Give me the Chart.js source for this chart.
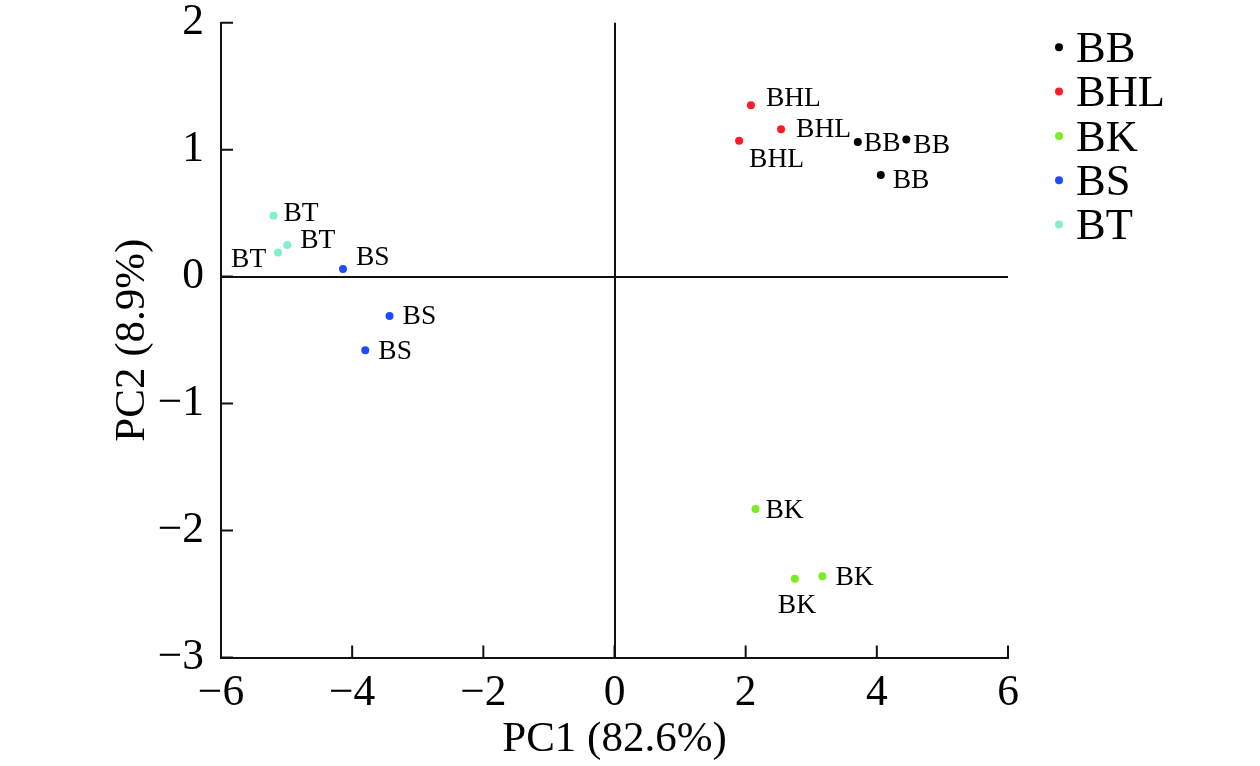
<!DOCTYPE html>
<html>
<head>
<meta charset="utf-8">
<script src="https://cdn.jsdelivr.net/npm/chart.js@4/dist/chart.umd.min.js"></script>
<style>
html,body{margin:0;padding:0;background:#fff;}
#wrap{width:1260px;height:766px;position:relative;}
</style>
</head>
<body>
<div id="wrap"><canvas id="c"></canvas></div>
<script>
// ---- data ----
const groups = ['BB', 'BHL', 'BK', 'BS', 'BT'];
const BB_x  = [3.71, 4.45, 4.06];
const BB_y  = [1.06, 1.08, 0.80];
const BHL_x = [2.08, 2.54, 1.90];
const BHL_y = [1.35, 1.16, 1.07];
const BK_x  = [2.15, 2.75, 3.17];
const BK_y  = [-1.83, -2.38, -2.36];
const BS_x  = [-4.14, -3.43, -3.80];
const BS_y  = [0.06, -0.31, -0.58];
const BT_x  = [-5.20, -4.99, -5.13];
const BT_y  = [0.48, 0.25, 0.19];
const xTicks = [-6, -4, -2, 0, 2, 4, 6];
const yTicks = [-3, -2, -1, 0, 1, 2];
const xTitle = 'PC1 (82.6%)';
const yTitle = 'PC2 (8.9%)';

// ---- styling / layout (not data) ----
const colors = ['#000000', '#ff1a2a', '#77ee22', '#1f4cff', '#80f0d0'];
// label offsets [dx, dy] from point centre to label left / vertical centre
const labelOffsets = {
  BB:  [[6, 0], [7, 4], [12, 4]],
  BHL: [[15, -8], [15, -1], [10, 17]],
  BK:  [[10, 0], [-17, 25], [13, 0]],
  BS:  [[13, -13], [13, -1], [13, 0]],
  BT:  [[10, -4], [13, -6], [-47, 6]]
};
const serif = '"Liberation Serif", "Times New Roman", serif';

const seriesX = {BB: BB_x, BHL: BHL_x, BK: BK_x, BS: BS_x, BT: BT_x};
const seriesY = {BB: BB_y, BHL: BHL_y, BK: BK_y, BS: BS_y, BT: BT_y};

const datasets = groups.map((g, i) => ({
  label: g,
  data: seriesX[g].map((x, k) => ({x: x, y: seriesY[g][k]})),
  backgroundColor: colors[i],
  borderColor: colors[i],
  pointRadius: 4,
  pointHoverRadius: 4,
  borderWidth: 0
}));

const fmt = v => (v < 0 ? '\u2212' + Math.abs(v) : String(v));

const extrasPlugin = {
  id: 'extras',
  afterDraw(chart) {
    const ctx = chart.ctx;
    const xs = chart.scales.x, ys = chart.scales.y;
    const ca = chart.chartArea;
    ctx.save();
    // inward ticks
    ctx.strokeStyle = '#111';
    ctx.lineWidth = 2;
    ctx.beginPath();
    xTicks.forEach(v => {
      const px = xs.getPixelForValue(v);
      ctx.moveTo(px, ca.bottom);
      ctx.lineTo(px, ca.bottom - 12);
    });
    yTicks.forEach(v => {
      const py = ys.getPixelForValue(v);
      ctx.moveTo(ca.left, py);
      ctx.lineTo(ca.left + 12, py);
    });
    ctx.stroke();
    // point labels
    ctx.font = '27.5px ' + serif;
    ctx.fillStyle = '#000';
    ctx.textAlign = 'left';
    ctx.textBaseline = 'alphabetic';
    chart.data.datasets.forEach((ds, di) => {
      const meta = chart.getDatasetMeta(di);
      meta.data.forEach((el, k) => {
        const off = labelOffsets[ds.label][k];
        ctx.fillText(ds.label, el.x + off[0], el.y + off[1] + 9);
      });
    });
    // legend
    ctx.font = '44.5px ' + serif;
    chart.data.datasets.forEach((ds, di) => {
      const cy = 47.3 + di * 44.3;
      ctx.fillStyle = ds.backgroundColor;
      ctx.beginPath();
      ctx.arc(1059, cy, 4, 0, Math.PI * 2);
      ctx.fill();
      ctx.fillStyle = '#000';
      ctx.fillText(ds.label, 1076, cy + 14.7);
    });
    ctx.restore();
  }
};

new Chart(document.getElementById('c'), {
  type: 'scatter',
  data: {datasets},
  plugins: [extrasPlugin],
  options: {
    responsive: true,
    maintainAspectRatio: false,
    animation: false,
    layout: {padding: {left: 0, right: 252, top: 22.7, bottom: 0}},
    plugins: {legend: {display: false}, tooltip: {enabled: false}},
    scales: {
      x: {
        type: 'linear', min: -6, max: 6,
        afterBuildTicks: s => { s.ticks = xTicks.map(v => ({value: v})); },
        afterFit: s => { s.height = 766 - 657.5; s.paddingLeft = 0; s.paddingRight = 0; },
        ticks: {
          color: '#000', padding: 10,
          font: {family: serif, size: 43.5, lineHeight: 1.2},
          callback: v => fmt(v), maxRotation: 0, autoSkip: false
        },
        grid: {
          drawTicks: false, drawOnChartArea: true, lineWidth: 2,
          color: c => (c.tick && c.tick.value === 0 ? '#111' : 'rgba(0,0,0,0)')
        },
        border: {display: true, color: '#111', width: 2},
        title: {display: true, text: xTitle, color: '#000', font: {family: serif, size: 43}, padding: {top: 0, bottom: 0}}
      },
      y: {
        type: 'linear', min: -3, max: 2,
        afterBuildTicks: s => { s.ticks = yTicks.map(v => ({value: v})); },
        afterFit: s => { s.width = 221; s.paddingTop = 0; s.paddingBottom = 0; },
        ticks: {
          color: '#000', padding: 17,
          font: {family: serif, size: 43.5, lineHeight: 1.2},
          callback: v => fmt(v), autoSkip: false
        },
        grid: {
          drawTicks: false, drawOnChartArea: true, lineWidth: 2,
          color: c => (c.tick && c.tick.value === 0 ? '#111' : 'rgba(0,0,0,0)')
        },
        border: {display: true, color: '#111', width: 2},
        title: {display: true, text: yTitle, color: '#000', font: {family: serif, size: 43}, padding: {top: 107, bottom: 0}}
      }
    }
  }
});
</script>
</body>
</html>
